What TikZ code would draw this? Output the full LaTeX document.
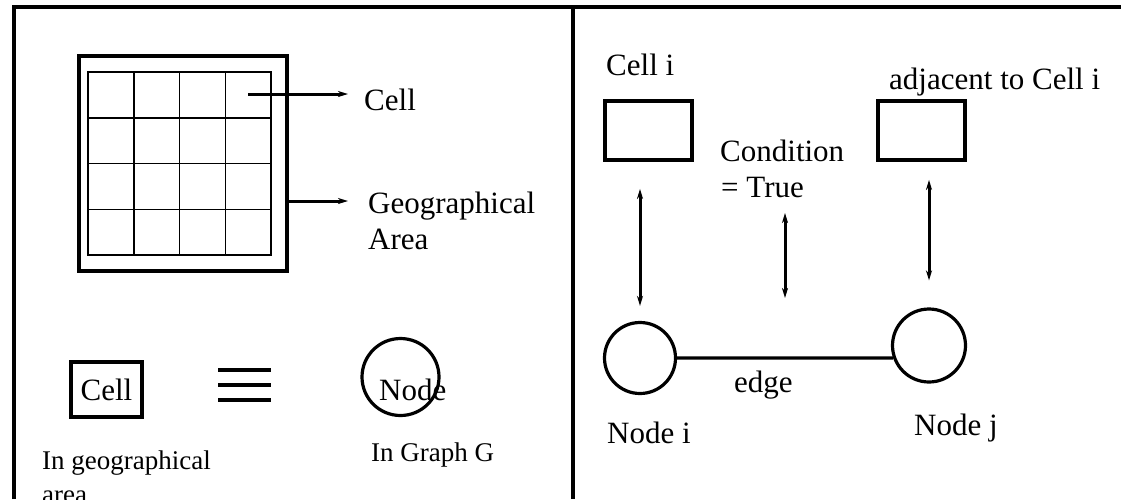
\documentclass[tikz,border=0pt]{standalone}
\usepackage{fontspec}
\setmainfont{Liberation Serif}
\usetikzlibrary{arrows.meta}
\begin{document}
\begin{tikzpicture}[x=1pt,y=-1pt,
  lbl/.style={inner sep=0pt, anchor=base west, font=\fontsize{31}{36}\selectfont},
  lblsmall/.style={inner sep=0pt, anchor=base west, font=\fontsize{27}{32}\selectfont},
  frameline/.style={line width=3.8pt},
  cellbox/.style={draw, line width=3.8pt, rectangle, inner sep=0pt},
  graphnode/.style={draw, line width=3.2pt, circle, inner sep=0pt},
  onearrow/.style={line width=3pt, -{Stealth[length=10pt,width=6pt,inset=3pt]}},
  twoarrow/.style={line width=3pt, {Stealth[length=10pt,width=6pt,inset=3pt]}-{Stealth[length=10pt,width=6pt,inset=3pt]}},
  gridline/.style={line width=1.5pt}]
\useasboundingbox (0,0) rectangle (1121,499);

% frame and panel divider
\draw[frameline] (14,499) -- (14,7) -- (1121,7);
\draw[frameline] (573,7) -- (573,499);

% ---------- left panel: geographical area made of cells ----------
\node[cellbox, line width=3.4pt, minimum width=208pt, minimum height=215pt] (area) at (183,163.5) {};
\draw[gridline] (88,72) rectangle (271,255);
\foreach \k in {1,2,3} {
  \draw[gridline] ({88+45.75*\k},72) -- ({88+45.75*\k},255);
  \draw[gridline] (88,{72+45.75*\k}) -- (271,{72+45.75*\k});
}
\coordinate (cellpt) at (248,94);
\coordinate (cellend) at (348,94);
\coordinate (areaend) at (348,201);
\node[lbl] (celltxt) at (364,110) {Cell};
\node[lbl] (geotxt) at (368,213) {Geographical};
\node[lbl] (areatxt) at (368,249) {Area};
\draw[onearrow] (cellpt) -- (cellend);
\draw[onearrow] (area.east |- areaend) -- (areaend);

% cell is equivalent to node
\node[cellbox, line width=3.4pt, minimum width=71pt, minimum height=55pt, font=\fontsize{31}{36}\selectfont] (cellsym) at (106.5,389.5) {Cell};
\draw[frameline] (218,370) -- (271,370);
\draw[frameline] (218,385) -- (271,385);
\draw[frameline] (218,400) -- (271,400);
\node[graphnode, minimum size=77pt] (gnode) at (400.5,377) {};
\node[lbl] (gnodetxt) at (379,400) {Node};
\node[lblsmall] (ingeo) at (42,469) {In geographical};
\node[lblsmall] (ingeo2) at (42,503) {area};
\node[lblsmall] (ingraph) at (371,461) {In Graph G};

% ---------- right panel: adjacency gives an edge ----------
\node[lbl] (cellitxt) at (606,75) {Cell i};
\node[lbl] (adjtxt) at (889,89) {adjacent to Cell i};
\node[cellbox, minimum width=87pt, minimum height=59pt] (celli) at (648.5,130.5) {};
\node[cellbox, minimum width=87pt, minimum height=59pt] (adj) at (921.5,130.5) {};
\node[lbl] (condtxt) at (720,161) {Condition};
\node[lbl] (truetxt) at (721,197) {= True};

\node[graphnode, minimum size=71pt] (nodei) at (640,358) {};
\node[graphnode, minimum size=73pt] (nodej) at (929,345.5) {};
\node[lbl] (nodeitxt) at (607,443) {Node i};
\node[lbl] (nodejtxt) at (914,435) {Node j};
\node[lbl] (edgetxt) at (734,392) {edge};

% horizontal edge meets node j below its centre
\draw[line width=3.2pt] (nodei.east) -- (nodej.199.15);

\draw[twoarrow, shorten <=27pt, shorten >=15pt] (nodei.north |- celli.south) -- (nodei.north);
\draw[twoarrow, shorten <=18pt, shorten >=27pt] (nodej.north |- adj.south) -- (nodej.north);
\coordinate (condtop) at (785,213);
\coordinate (condbot) at (785,298);
\draw[twoarrow] (condtop) -- (condbot);
\end{tikzpicture}
\end{document}
